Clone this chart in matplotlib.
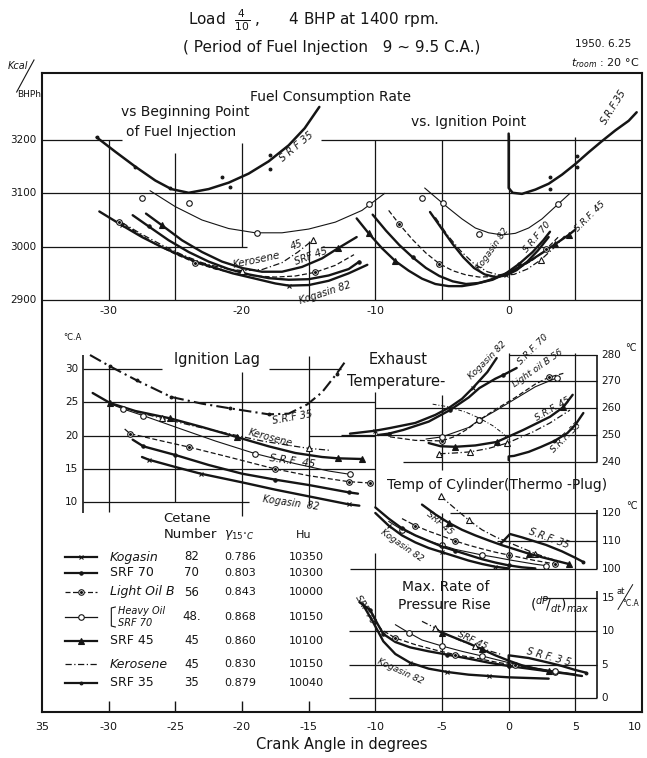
import matplotlib.pyplot as plt

W, H = 647, 758
L, R, T, B = 42, 642, 73, 712  # outer frame in pixels
INK = "#151515"

plt.rcParams["font.family"] = ["DejaVu Sans"]

# ── crank angle axis ──
x_ticks = [-35, -30, -25, -20, -15, -10, -5, 0, 5, 10]
x_tick_labels = ["35", "-30", "-25", "-20", "-15", "-10", "-5", "0", "5", "10"]
fc_x_labels = [-30, -20, -10, 0]

# ── fuel consumption rate, kcal/BHPh, vs beginning point of injection ──
beg_srf35 = [(-30.9, 3205), (-29.5, 3178), (-28, 3150), (-26.5, 3124), (-25.3, 3108), (-24, 3101),
             (-22.5, 3108), (-21, 3120), (-19.5, 3137), (-18, 3160), (-16.5, 3190), (-15.3, 3222), (-14.2, 3262)]
beg_srf35_pts = [(-30.9, 3205), (-28, 3150), (-25.4, 3110), (-21.5, 3130), (-20.9, 3112), (-17.9, 3171), (-17.9, 3145)]
beg_heavy = [(-26.9, 3105), (-25, 3075), (-23, 3050), (-21, 3034), (-19, 3026), (-17, 3026), (-15, 3033),
             (-13, 3046), (-11, 3068), (-9.3, 3100)]
beg_heavy_pts = [(-27.5, 3091), (-24.0, 3082), (-18.9, 3025), (-10.5, 3080)]
beg_kog = [(-30.7, 3066), (-29, 3040), (-27.5, 3018), (-26, 2999), (-25, 2988), (-23.5, 2972), (-22, 2960),
           (-20.7, 2950), (-19, 2940), (-17.5, 2931), (-16.5, 2927), (-15, 2928), (-13.5, 2936), (-12, 2950), (-10.6, 2966)]
beg_srf70 = [(-28.2, 3059), (-27, 3038), (-25.5, 3012), (-24, 2990), (-22.5, 2972), (-21, 2958), (-19.5, 2948),
             (-18, 2941), (-16.5, 2938), (-15, 2939), (-13.5, 2946), (-12, 2958), (-11.2, 2972)]
beg_light = [(-29.2, 3047), (-27.8, 3025), (-26.5, 3005), (-25, 2986), (-23.5, 2970), (-22, 2958), (-20.5, 2950),
             (-19, 2945), (-17.5, 2943), (-16, 2945), (-14.5, 2952), (-13, 2965), (-11.6, 2985)]
beg_srf45 = [(-27.2, 3062), (-26, 3040), (-24.5, 3012), (-23, 2990), (-21.5, 2972), (-20, 2960), (-18.5, 2953),
             (-17, 2953), (-15.5, 2962), (-14, 2978), (-12.8, 2997), (-11.4, 3018)]
beg_kero = [(-29, 3045), (-27.5, 3023), (-26, 3003), (-24.5, 2985), (-23, 2970), (-21.5, 2960), (-20, 2955),
            (-18.5, 2957), (-17, 2970), (-15.8, 2990), (-14.7, 3012)]

# ── fuel consumption rate vs ignition point ──
ign_srf35 = [(0.0, 3212), (0.0, 3110), (0.3, 3101), (1.0, 3099), (2.0, 3107), (3.0, 3118), (4.0, 3135), (5.0, 3155),
             (6.0, 3177), (7.0, 3198), (8.0, 3218), (9.0, 3236), (9.6, 3252)]
ign_srf35_pts = [(3.1, 3130), (3.1, 3109), (5.1, 3170), (5.1, 3150)]
ign_heavy = [(-6.3, 3110), (-5.5, 3093), (-4.5, 3072), (-3.5, 3052), (-2.5, 3035), (-1.5, 3026), (-0.5, 3022),
             (0.5, 3025), (1.5, 3035), (2.5, 3052), (3.5, 3075), (4.6, 3100)]
ign_heavy_pts = [(-6.5, 3091), (-4.9, 3082), (-2.2, 3024), (3.7, 3080)]
ign_srf45 = [(-11.4, 3053), (-10.5, 3025), (-9.5, 2997), (-8.5, 2973), (-7.5, 2955), (-6.5, 2940), (-5.5, 2930),
             (-4.5, 2926), (-3.5, 2926), (-2.5, 2930), (-1.5, 2937), (-0.5, 2946), (0.5, 2958), (1.5, 2972),
             (2.5, 2988), (3.5, 3005), (4.5, 3022), (5.0, 3032)]
ign_srf70 = [(-10.2, 3060), (-9.2, 3030), (-8.2, 3003), (-7.2, 2980), (-6.2, 2960), (-5.2, 2945), (-4.2, 2935),
             (-3.2, 2930), (-2.2, 2932), (-1.2, 2938), (-0.2, 2950), (0.8, 2968), (1.8, 2990), (2.6, 3012), (3.1, 3028)]
ign_light = [(-9.0, 3068), (-8.2, 3042), (-7.2, 3013), (-6.2, 2988), (-5.2, 2968), (-4.2, 2955), (-3.2, 2947),
             (-2.2, 2943), (-1.2, 2944), (-0.2, 2950), (0.8, 2960), (1.8, 2975), (2.8, 2995), (3.8, 3020)]
ign_kog = [(-5.9, 3065), (-5.0, 3033), (-4.2, 3005), (-3.4, 2980), (-2.6, 2960), (-1.8, 2948), (-1.0, 2943),
           (-0.2, 2946), (0.6, 2956), (1.4, 2972), (2.2, 2993), (3.0, 3018)]
ign_kero = [(-5.5, 3055), (-4.6, 3022), (-3.6, 2992), (-2.6, 2968), (-1.6, 2953), (-0.6, 2946), (0.4, 2948),
            (1.4, 2958), (2.4, 2975), (3.4, 2998), (4.2, 3020)]

# ── ignition lag, deg C.A. ──
lag_srf35 = [(-31.4, 32.1), (-29.9, 30.4), (-27.9, 28.3), (-25.3, 25.8), (-23, 24.8), (-20.9, 24.1), (-18, 23.2),
             (-16.5, 23.3), (-15.1, 24.7), (-14, 26.5), (-12.9, 29.3), (-12.3, 31.0)]
lag_srf45 = [(-31.2, 26.4), (-29.9, 24.9), (-28, 23.7), (-25.4, 22.6), (-23, 21.3), (-20.4, 19.8), (-18, 18.4),
             (-16, 17.4), (-14, 16.8), (-12.8, 16.6), (-11, 16.5)]
lag_kero = [(-28, 23.6), (-26, 22.6), (-23.5, 21.4), (-21, 20.3), (-18.5, 19.2), (-16, 18.4), (-15, 18.1), (-13.4, 17.8)]
lag_heavy = [(-29.9, 24.8), (-28.9, 24.0), (-27.4, 23.0), (-25, 21.3), (-22, 19.2), (-19, 17.3), (-16, 15.8),
             (-13.5, 14.7), (-11.9, 14.2)]
lag_light = [(-28.8, 21.0), (-28.4, 20.3), (-26, 19.2), (-24, 18.3), (-21, 16.8), (-17.5, 15.0), (-15, 14.0),
             (-12, 13.1), (-10.4, 12.9)]
lag_srf70 = [(-28.2, 19.4), (-27.4, 18.4), (-25, 17.1), (-22.5, 15.6), (-20, 14.3), (-17.5, 13.4), (-15, 12.6),
             (-12, 11.5), (-11.3, 11.3)]
lag_kog = [(-27.5, 16.8), (-27, 16.4), (-25, 15.3), (-23.1, 14.3), (-20, 13.0), (-17.5, 11.9), (-15, 10.9),
           (-13, 10.1), (-12, 9.7), (-11.2, 9.5)]
lag_ticks = [30, 25, 20, 15, 10]

# ── exhaust temperature, deg C ──
ex_kog = [(-11.9, 250.5), (-10, 251.6), (-8.9, 252.6), (-7, 254.5), (-5.5, 257.5), (-4.4, 260.4), (-3.5, 263.5),
          (-2.7, 267.5), (-1.6, 273.5), (-0.9, 278.7)]
ex_srf70 = [(-9.8, 250.0), (-9.0, 250.5), (-7.9, 251.9), (-6.0, 255.0), (-4.4, 259.3), (-3.0, 264.0), (-2.2, 267.5),
            (-1.0, 271.0), (-0.4, 272.4), (0.6, 275.0)]
ex_light = [(-8.9, 249.3), (-7.0, 248.0), (-5.0, 247.8), (-4.0, 249.5), (-3.0, 252.5), (-2.2, 255.6), (-1.0, 259.5),
            (0.5, 264.0), (2.0, 269.0), (3.0, 271.5), (4.1, 273.0)]
ex_heavy = [(-6.2, 248.5), (-5.0, 249.3), (-3.0, 252.8), (-2.2, 255.6), (-1.0, 259.0), (0.5, 263.5), (2.0, 268.0),
            (3.6, 271.3)]
ex_srf45 = [(-6.0, 247.0), (-5.1, 245.8), (-4.0, 245.6), (-2.5, 246.1), (-0.9, 247.4), (1.1, 251.9), (3.1, 256.8),
            (4.1, 260.4), (4.8, 265.0)]
ex_kero = [(-5.2, 243.0), (-4.0, 243.3), (-2.9, 243.7), (-1.5, 245.0), (-0.1, 247.0), (1.8, 251.1), (3.1, 254.5),
           (4.6, 259.3)]
ex_srf35 = [(0.0, 240.6), (0.0, 242.0), (0.4, 242.2), (1.5, 243.7), (2.4, 245.5), (3.4, 247.7), (4.4, 250.7),
            (5.0, 253.8), (5.6, 258.2)]
ex_arc = [(-5.7, 261.5), (-4.5, 260.5), (-3.2, 258.5), (-2.2, 256.3), (-1.2, 253.5), (-0.4, 250.5), (0.0, 248.0)]
ex_ticks = [280, 270, 260, 250, 240]

# ── cylinder temperature (thermo-plug), deg C ──
cy_srf35 = [(-0.6, 109.0), (0.1, 112.5), (1.0, 111.3), (2.0, 109.8), (2.8, 108.6), (4.0, 106.3), (5.0, 104.0), (5.6, 102.5)]
cy_kero = [(-5.1, 126.0), (-4.0, 121.5), (-3.0, 117.5), (-2.0, 114.0), (-1.0, 111.5), (0.0, 109.5), (1.0, 107.5),
           (2.0, 105.5), (3.0, 103.8), (4.0, 102.5)]
cy_srf45 = [(-6.5, 123.0), (-5.5, 119.5), (-4.5, 116.5), (-3.5, 114.0), (-2.5, 112.0), (-1.5, 110.2), (-0.5, 108.5),
            (0.5, 107.0), (1.5, 105.5), (2.5, 104.2), (3.5, 103.0), (4.5, 101.8)]
cy_light = [(-8.0, 118.0), (-7.0, 115.5), (-6.0, 113.5), (-5.0, 111.8), (-4.0, 110.0), (-3.0, 108.5), (-2.0, 107.2),
            (-1.0, 106.0), (0.0, 105.0), (1.0, 104.0), (2.0, 103.0), (3.0, 102.2), (3.5, 101.8)]
cy_heavy = [(-9.0, 117.0), (-8.0, 114.0), (-7.0, 112.0), (-6.0, 110.0), (-5.0, 108.5), (-4.0, 107.0), (-3.0, 106.0),
            (-2.0, 105.0), (-1.0, 104.2), (0.0, 103.3), (1.0, 102.5), (2.0, 101.7), (2.8, 101.2)]
cy_srf70 = [(-10.0, 122.0), (-9.0, 118.0), (-8.0, 114.5), (-7.0, 112.0), (-6.0, 110.0), (-5.0, 108.0), (-4.0, 106.5),
            (-3.0, 105.0), (-2.0, 103.5), (-1.0, 102.3), (0.0, 101.3), (1.0, 100.6), (2.0, 100.2)]
cy_kog = [(-10.0, 120.0), (-9.0, 115.5), (-8.0, 112.0), (-7.0, 109.5), (-6.0, 107.5), (-5.0, 106.0), (-4.0, 104.5),
          (-3.0, 103.0), (-2.0, 101.8), (-1.0, 100.8), (0.0, 100.2)]
cy_ticks = [120, 110, 100]

# ── max rate of pressure rise, at/deg C.A. ──
pr_srf70 = [(-11.2, 14.4), (-10.4, 13.2), (-9.8, 11.0), (-9.4, 9.6), (-8.5, 8.4), (-7.4, 7.6), (-6.0, 7.0),
            (-4.6, 6.5), (-3.0, 5.9), (-1.5, 5.3), (0.0, 4.8), (1.5, 4.4), (3.0, 4.0), (4.5, 3.6), (5.5, 3.3)]
pr_kog = [(-10.9, 13.9), (-10.2, 11.5), (-9.4, 8.5), (-8.5, 6.6), (-7.4, 5.3), (-6.0, 4.4), (-4.6, 3.9), (-3.0, 3.5),
          (-1.5, 3.3), (0.0, 3.1), (1.5, 3.0), (3.0, 2.9)]
pr_light = [(-10.5, 12.5), (-9.5, 10.2), (-8.5, 9.0), (-7.0, 8.0), (-5.5, 7.2), (-4.0, 6.5), (-2.5, 6.0), (-1.0, 5.4),
            (0.5, 4.9), (2.0, 4.4), (3.5, 3.9), (5.0, 3.5)]
pr_heavy = [(-8.5, 11.0), (-7.5, 9.8), (-6.5, 8.7), (-5.0, 7.8), (-3.5, 7.0), (-2.0, 6.3), (0.0, 5.3), (2.0, 4.5),
            (3.5, 4.0), (5.0, 3.6)]
pr_srf45 = [(-5.5, 10.3), (-5.0, 9.8), (-4.0, 9.0), (-3.0, 8.2), (-2.0, 7.3), (-1.0, 6.4), (0.0, 5.6), (1.0, 4.9),
            (2.0, 4.4), (3.0, 4.0)]
pr_kero = [(-6.5, 11.5), (-5.5, 10.5), (-4.5, 9.4), (-3.5, 8.5), (-2.5, 7.8), (-1.5, 7.1), (-0.5, 6.5)]
pr_srf35 = [(0.0, 4.6), (0.0, 6.4), (1.5, 6.0), (3.0, 5.3), (4.0, 4.8), (5.0, 4.2), (5.8, 3.8)]
pr_ticks = [15, 10, 5, 0]

# ── fuel table ──
fuel_keys = ["kog", "srf70", "light", "heavy", "srf45", "kero", "srf35"]
fuel_names = ["Kogasin", "SRF 70", "Light Oil B", "Heavy Oil\nSRF 70", "SRF 45", "Kerosene", "SRF 35"]
cetane = ["82", "70", "56", "48.", "45", "45", "35"]
gamma15 = ["0.786", "0.803", "0.843", "0.868", "0.860", "0.830", "0.879"]
hu = ["10350", "10300", "10000", "10150", "10100", "10150", "10040"]
row_y = [557, 573, 592, 617, 641, 664, 683]  # pixel rows

STYLE = {
    "kog": dict(lw=1.7, ls="-", marker="x", ms=3.5, mfc=INK),
    "srf70": dict(lw=1.7, ls="-", marker="o", ms=2.4, mfc=INK),
    "light": dict(lw=0.9, ls=(0, (4, 2)), marker="o", ms=4, mfc="white"),
    "heavy": dict(lw=0.8, ls="-", marker="o", ms=4, mfc="white"),
    "srf45": dict(lw=1.7, ls="-", marker="^", ms=3.8, mfc=INK),
    "kero": dict(lw=0.9, ls=(0, (5, 2, 1, 2)), marker="^", ms=4, mfc="white"),
    "srf35": dict(lw=1.7, ls="-", marker="o", ms=2.0, mfc=INK),
}

fig = plt.figure(figsize=(W / 100, H / 100), dpi=100)
rect = [L / W, 1 - B / H, (R - L) / W, (B - T) / H]

# base axes: x in crank angle, y in pixel rows (for frame, table and texts)
base = fig.add_axes(rect)
base.set_xlim(-35, 10)
base.set_ylim(B, T)
base.set_yticks([])
base.set_xticks(x_ticks, x_tick_labels)
base.tick_params(axis="x", length=0, pad=7, labelsize=8, colors=INK)
base.get_xticklabels()[-1].set_horizontalalignment("right")
for s in base.spines.values():
    s.set_linewidth(1.5)
    s.set_color(INK)
base.vlines([-30, -25, -20, -15], B - 11, B, color=INK, lw=1.0)


def panel(v0, p0, k):
    ax = fig.add_axes(rect, sharex=base)
    ax.set_ylim(v0 - (B - p0) / k, v0 + (p0 - T) / k)
    ax.axis("off")
    return ax


def curve(ax, pts, key, every=(), ls=None, lw=None):
    st = STYLE[key]
    xs = [p[0] for p in pts]
    ys = [p[1] for p in pts]
    ax.plot(xs, ys, color=INK, lw=lw or st["lw"], ls=ls or st["ls"], solid_capstyle="round")
    mx = [xs[i] for i in every]
    my = [ys[i] for i in every]
    marks(ax, mx, my, key)


def marks(ax, mx, my, key):
    st = STYLE[key]
    ax.plot(mx, my, ls="none", marker=st["marker"], ms=st["ms"], mfc=st["mfc"], mec=INK, mew=0.8, color=INK)
    if key == "light":
        ax.plot(mx, my, ls="none", marker="o", ms=1.2, color=INK)


def lab(ax, x, y, s, rot=0, size=7, **kw):
    ax.text(x, y, s, rotation=rot, fontsize=size, color=INK, ha="center", va="center",
            rotation_mode="anchor", clip_on=False, **kw)


GRID = dict(color=INK, lw=0.9)

# ── top panel: fuel consumption ──
top = panel(2900, 300, 160 / 300)
for y, x0, x1 in [(3200, -35, -29), (3200, -14.1, 10), (3100, -35, 10), (3000, -35, -19.6),
                  (3000, -14.1, 10), (2900, -35, 10)]:
    top.hlines(y, x0, x1, **GRID)
for x, y0, y1 in [(-30, 2900, 3200), (-25, 2900, 3175), (-20, 3000, 3195), (-15, 2900, 3010),
                  (-10, 2900, 3200), (-5, 2900, 3200), (0, 2900, 3210), (5, 2900, 3205)]:
    top.vlines(x, y0, y1, **GRID)
for v in [3200, 3100, 3000, 2900]:
    top.text(-35.4, v, str(v), ha="right", va="center", fontsize=7.5, color=INK, clip_on=False)
for v in fc_x_labels:
    base.text(v, 311, str(v), ha="center", va="center", fontsize=8, color=INK)

curve(top, beg_srf35, "srf35", lw=1.8)
marks(top, [p[0] for p in beg_srf35_pts], [p[1] for p in beg_srf35_pts], "srf35")
curve(top, beg_heavy, "heavy")
marks(top, [p[0] for p in beg_heavy_pts], [p[1] for p in beg_heavy_pts], "heavy")
curve(top, beg_kog, "kog", every=(1, 10))
curve(top, beg_srf70, "srf70", every=(1, 12))
curve(top, beg_light, "light", every=(0, 4, 10))
curve(top, beg_srf45, "srf45", every=(1, 10))
curve(top, beg_kero, "kero", every=(6, 10))

curve(top, ign_srf35, "srf35", lw=1.8)
marks(top, [p[0] for p in ign_srf35_pts], [p[1] for p in ign_srf35_pts], "srf35")
curve(top, ign_heavy, "heavy")
marks(top, [p[0] for p in ign_heavy_pts], [p[1] for p in ign_heavy_pts], "heavy")
curve(top, ign_srf45, "srf45", every=(1, 3, 15, 16))
curve(top, ign_srf70, "srf70", every=(3, 11))
curve(top, ign_light, "light", every=(1, 4, 12))
curve(top, ign_kog, "kog", every=(7,))
curve(top, ign_kero, "kero", every=(8,))

lab(top, -13.4, 3281, "Fuel Consumption Rate", size=10)
top.text(-29.1, 3252, "vs Beginning Point", fontsize=10, color=INK, va="center")
top.text(-28.7, 3215, "of Fuel Injection", fontsize=10, color=INK, va="center")
lab(top, -3.0, 3234, "vs. Ignition Point", size=10)
lab(top, -15.9, 3187, "S R F 35", rot=40, size=7, style="italic")
lab(top, 7.9, 3262, "S.R.F.35", rot=58, size=7, style="italic")
lab(top, -18.9, 2974, "Kerosene", rot=12, size=7.5, style="italic")
lab(top, -15.9, 3003, "45", rot=20, size=7, style="italic")
lab(top, -14.8, 2982, "SRF 45", rot=20, size=7, style="italic")
lab(top, -13.8, 2913, "Kogasin 82", rot=18, size=7, style="italic")
lab(top, -1.2, 2995, "Kogasin 82", rot=55, size=6.5, style="italic")
lab(top, 2.1, 3018, "S.R.F 70", rot=50, size=6.5, style="italic")
lab(top, 6.1, 3056, "S.R.F. 45", rot=45, size=6.5, style="italic")

# ── ignition lag ──
lag = panel(15, 469, 100 / 15)
for y, x0, x1 in [(30, -31.9, -26), (30, -18, -12.6), (25, -31.9, -10), (20, -31.9, -21), (20, -15, -10),
                  (15, -31.9, -10), (10, -31.9, -19.5)]:
    lag.hlines(y, x0, x1, **GRID)
for x, y0, y1 in [(-30, 8.5, 30.5), (-25, 10, 26), (-20, 8, 29.5), (-15, 9.5, 32), (-10, 9.3, 26.5)]:
    lag.vlines(x, y0, y1, **GRID)
lag.vlines(-31.9, 8.4, 32.1, color=INK, lw=1.2)
for v in lag_ticks:
    lag.text(-32.3, v, str(v), ha="right", va="center", fontsize=7.5, color=INK)
base.text(-32.75, 337, "°C.A", ha="center", va="center", fontsize=6, color=INK)

curve(lag, lag_srf35, "srf35", ls=(0, (6, 2, 1, 2)), lw=1.5, every=(1, 2, 3, 5, 6, 10))
curve(lag, lag_srf45, "srf45", every=(1, 3, 5, 9, 10))
curve(lag, lag_kero, "kero", every=(1, 6))
curve(lag, lag_heavy, "heavy", every=(1, 2, 5, 8))
curve(lag, lag_light, "light", every=(1, 3, 5, 7, 8))
curve(lag, lag_srf70, "srf70", every=(1, 2, 5, 7))
curve(lag, lag_kog, "kog", every=(1, 3, 8))

lab(lag, -21.9, 31.4, "Ignition Lag", size=10.5)
lab(lag, -16.2, 22.7, "S.R.F 35", rot=10, size=7, style="italic")
lab(lag, -17.9, 19.6, "Kerosene", rot=-15, size=7, style="italic")
lab(lag, -16.2, 16.2, "S.R.F  45", rot=-8, size=7.5, style="italic")
lab(lag, -16.3, 9.9, "Kogasin  82", rot=-8, size=7, style="italic")

# ── exhaust temperature ──
ex = panel(250, 435, 2.68)
for y, x0, x1 in [(280, 0, 6.63), (270, -2.3, 6.63), (260, -10, 6.63), (250, -12.6, 6.63), (240, -7.9, 6.63)]:
    ex.hlines(y, x0, x1, **GRID)
ex.vlines(-5, 237, 265, **GRID)
ex.vlines(6.63, 240, 280, color=INK, lw=1.2)
for v in ex_ticks:
    ex.text(6.95, v, str(v), ha="left", va="center", fontsize=7.5, color=INK)
ex.text(8.7, 282.5, "°C", ha="left", va="center", fontsize=7, color=INK)

curve(ex, ex_kog, "kog", every=(1, 7))
curve(ex, ex_srf70, "srf70", every=(1, 4, 8))
curve(ex, ex_light, "light", every=(2, 5, 9))
curve(ex, ex_heavy, "heavy", every=(1, 3, 7))
curve(ex, ex_srf45, "srf45", every=(2, 4, 7))
curve(ex, ex_kero, "kero", every=(0, 2, 4))
curve(ex, ex_srf35, "srf35", every=(5,))
ex.plot([p[0] for p in ex_arc], [p[1] for p in ex_arc], color=INK, lw=0.7, ls=(0, (4, 2, 1, 2)))

lab(ex, -8.3, 278, "Exhaust", size=10.5)
lab(ex, -8.4, 269.8, "Temperature-", size=10.5)
lab(ex, -1.6, 278.0, "Kogasin 82", rot=45, size=6.5, style="italic")
lab(ex, 1.8, 282.0, "S.R.F. 70", rot=45, size=6.5, style="italic")
lab(ex, 2.2, 275.0, "Light oil B 56", rot=35, size=6.5, style="italic")
lab(ex, 3.3, 259.8, "S.R.F. 45", rot=30, size=6.5, style="italic")
lab(ex, 4.3, 249.0, "S.R.F. 35", rot=45, size=6.5, style="italic")

# ── cylinder temperature ──
cy = panel(100, 569, 2.8)
for y, x0, x1 in [(120, -4.4, 6.63), (110, -0.9, 6.63), (100, -11.9, 6.63)]:
    cy.hlines(y, x0, x1, **GRID)
cy.vlines(6.63, 100, 121, color=INK, lw=1.2)
for v in cy_ticks:
    cy.text(6.95, v, str(v), ha="left", va="center", fontsize=7.5, color=INK)
cy.text(8.8, 122.5, "°C", ha="left", va="center", fontsize=7, color=INK)

curve(cy, cy_srf35, "srf35", every=(7,))
curve(cy, cy_kero, "kero", every=(0, 2, 7))
curve(cy, cy_srf45, "srf45", every=(2, 8, 11))
curve(cy, cy_light, "light", every=(1, 4, 8, 12))
curve(cy, cy_heavy, "heavy", every=(1, 4, 7, 12))
curve(cy, cy_srf70, "srf70", every=(2, 6, 10))
curve(cy, cy_kog, "kog", every=(1, 5, 9))

cy.text(-9.1, 130, "Temp of Cylinder(Thermo -Plug)", fontsize=10, color=INK, va="center")
lab(cy, -5.2, 116.5, "SRF 45", rot=-40, size=6.5, style="italic")
lab(cy, -8.0, 108.2, "Kogasin 82", rot=-35, size=6.5, style="italic")
lab(cy, 3.0, 111.0, "S.R.F. 35", rot=-20, size=7, style="italic")

# ── max rate of pressure rise ──
pr = panel(0, 698, 100 / 15)
for y, x0, x1 in [(15, 2.5, 6.63), (10, -12, 6.63), (5, -12, 6.63), (0, -12, 6.63)]:
    pr.hlines(y, x0, x1, **GRID)
for x, y0, y1 in [(-10, -2.1, 21.7), (-5, -2.1, 27.7), (0, -2.1, 51.7), (5, -2.1, 51.7)]:
    pr.vlines(x, y0, y1, **GRID)
pr.vlines(6.63, 0, 16, color=INK, lw=1.2)
for v in pr_ticks:
    pr.text(6.95, v, str(v), ha="left", va="center", fontsize=7.5, color=INK)
pr.text(8.1, 16.0, "at", ha="left", va="center", fontsize=6, color=INK)
pr.text(8.5, 14.1, "°C.A", ha="left", va="center", fontsize=5.5, color=INK)
pr.plot([8.2, 9.3], [13.3, 17.0], color=INK, lw=0.7, clip_on=False)

curve(pr, pr_srf70, "srf70", every=(1, 3, 7, 10))
curve(pr, pr_kog, "kog", every=(4, 6, 8))
curve(pr, pr_light, "light", every=(2, 5, 8, 10))
curve(pr, pr_heavy, "heavy", every=(1, 3, 5, 8))
curve(pr, pr_srf45, "srf45", every=(1, 4, 9))
curve(pr, pr_kero, "kero", every=(1, 4))
curve(pr, pr_srf35, "srf35", every=(6,))

pr.text(-8.0, 16.6, "Max. Rate of", fontsize=10, color=INK, va="center")
pr.text(-8.3, 13.9, "Pressure Rise", fontsize=10, color=INK, va="center")
pr.text(1.6, 14.0, r"$(^{dP}\!/_{dt})_{max}$", fontsize=10, color=INK, va="center")
lab(pr, -10.8, 13.3, "SRF 70", rot=-60, size=6.5, style="italic")
lab(pr, -2.7, 8.6, "SRF 45", rot=-25, size=6.5, style="italic")
lab(pr, 3.0, 6.1, "S R F. 3 5", rot=-15, size=7, style="italic")
lab(pr, -8.1, 4.0, "Kogasin 82", rot=-25, size=6.5, style="italic")

# ── fuel table (x in crank angle, y in pixel rows) ──
lab(base, -24.1, 518, "Cetane", size=9.5)
lab(base, -23.9, 535, "Number", size=9.5)
lab(base, -20.2, 535, r"$\gamma_{15^{\circ}C}$", size=9)
lab(base, -15.4, 535, "Hu", size=8)
for key, name, cn, g, h, y in zip(fuel_keys, fuel_names, cetane, gamma15, hu, row_y):
    st = STYLE[key]
    lw = 1.6 if st["lw"] > 1 else 0.9
    base.plot([-33.3, -30.9], [y, y], color=INK, lw=lw, ls=st["ls"])
    if key != "kero":
        marks(base, [-32.1], [y], key)
    if "\n" in name:
        # thin bracket in front of the two-line name
        base.plot([-29.5, -29.8, -29.8, -29.5], [y - 10, y - 9, y + 9, y + 10], color=INK, lw=0.8)
        base.text(-29.3, y, name, fontsize=7, color=INK, va="center", ha="left", style="italic",
                  linespacing=1.25)
    else:
        base.text(-29.9, y, name, fontsize=9, color=INK, va="center", ha="left",
                  style="italic" if key in ("kog", "light", "kero") else "normal")
    lab(base, -23.8, y, cn, size=8.5)
    lab(base, -20.15, y, g, size=8)
    lab(base, -15.2, y, h, size=8)

# ── header ──
lab(base, -14.6, 20, r"Load  $\frac{4}{10}$ ,      4 BHP at 1400 rpm.", size=11)
lab(base, -13.3, 47, "( Period of Fuel Injection   9 ~ 9.5 C.A.)", size=11)
lab(base, 7.1, 44, "1950. 6.25", size=7.5)
lab(base, 7.2, 63, r"$t_{room}$ : 20 °C", size=8)
lab(base, -36.8, 66, "Kcal", size=7, style="italic")
base.plot([-35.6, -36.9], [60, 92], color=INK, lw=0.8, clip_on=False)
lab(base, -36.0, 94, "BHPh", size=6.5)
lab(base, -12.5, 745, "Crank Angle in degrees", size=10.5)

fig.savefig("out.png", dpi=100)
